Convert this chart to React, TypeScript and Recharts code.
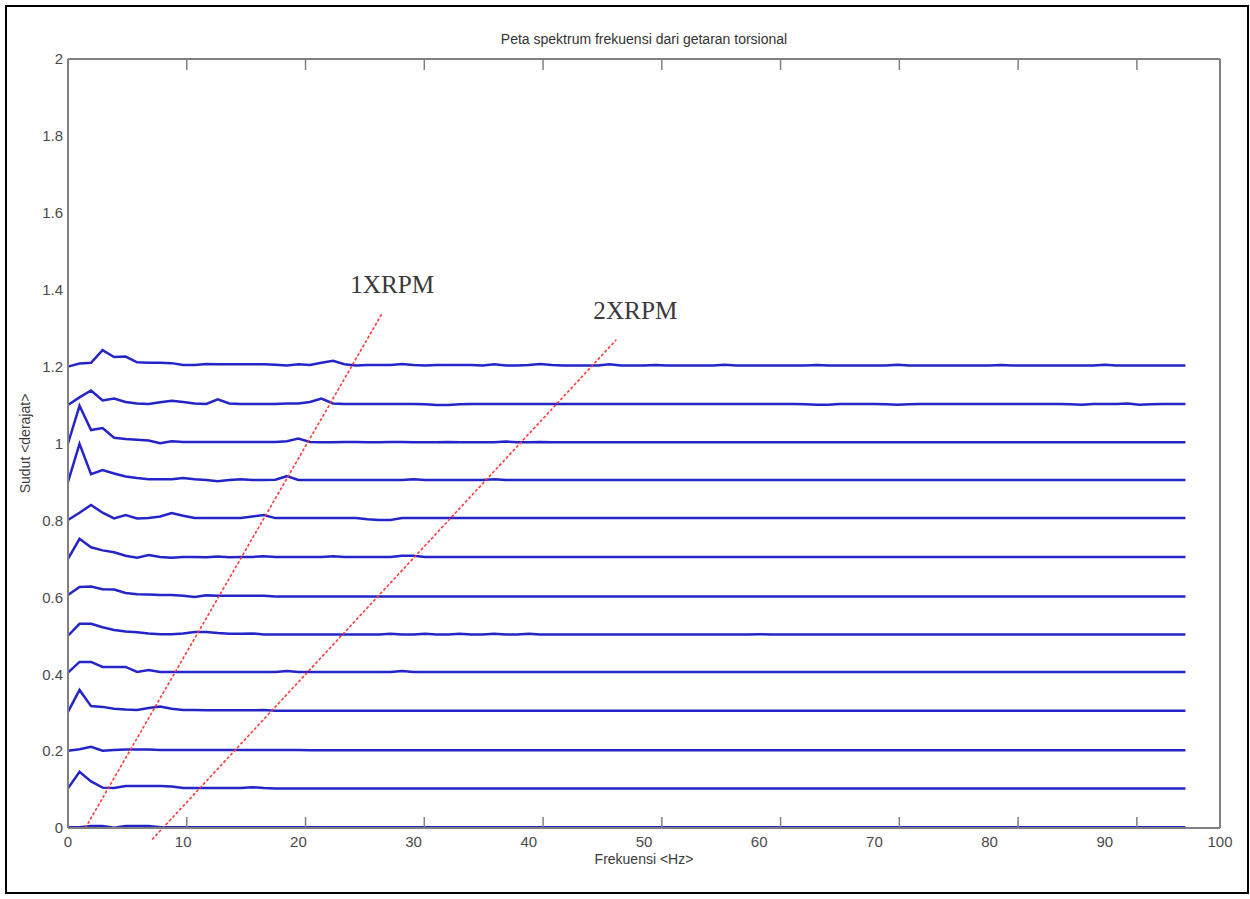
import React from "react";
import { LineChart, Line, XAxis, YAxis, ReferenceLine, ReferenceDot } from "recharts";

// frequency bins, Hz
const FREQ = [
  0, 1, 2, 3, 4, 5, 6, 7, 8, 9, 10, 11, 12, 13, 14, 15, 16, 17, 18, 19,
  20, 21, 22, 23, 24, 25, 26, 27, 28, 29, 30, 31, 32, 33, 34, 35, 36, 37, 38, 39,
  40, 41, 42, 43, 44, 45, 46, 47, 48, 49, 50, 51, 52, 53, 54, 55, 56, 57, 58, 59,
  60, 61, 62, 63, 64, 65, 66, 67, 68, 69, 70, 71, 72, 73, 74, 75, 76, 77, 78, 79,
  80, 81, 82, 83, 84, 85, 86, 87, 88, 89, 90, 91, 92, 93, 94, 95, 96, 97,
];

// spectrum amplitude of each run, in 0.001 deg
const RUN_00 = [
  2, 2, 5, 5, 1, 5, 5, 5, 2, 2, 2, 2, 2, 2, 2, 2, 2, 2, 2, 2,
  2, 2, 2, 2, 2, 2, 2, 2, 2, 2, 2, 2, 2, 2, 2, 2, 2, 2, 2, 2,
  2, 2, 2, 2, 2, 2, 2, 2, 2, 2, 2, 2, 2, 2, 2, 2, 2, 2, 2, 2,
  2, 2, 2, 2, 2, 2, 2, 2, 2, 2, 2, 2, 2, 2, 2, 2, 2, 2, 2, 2,
  2, 2, 2, 2, 2, 2, 2, 2, 2, 2, 2, 2, 2, 2, 2, 2, 2, 2,
];
const RUN_01 = [
  3, 46, 21, 5, 4, 9, 9, 9, 9, 8, 4, 4, 4, 4, 4, 4, 6, 4, 3, 3,
  3, 3, 3, 3, 3, 3, 3, 3, 3, 3, 3, 3, 3, 3, 3, 3, 3, 3, 3, 3,
  3, 3, 3, 3, 3, 3, 3, 3, 3, 3, 3, 3, 3, 3, 3, 3, 3, 3, 3, 3,
  3, 3, 3, 3, 3, 3, 3, 3, 3, 3, 3, 3, 3, 3, 3, 3, 3, 3, 3, 3,
  3, 3, 3, 3, 3, 3, 3, 3, 3, 3, 3, 3, 3, 3, 3, 3, 3, 3,
];
const RUN_02 = [
  1, 5, 11, 1, 3, 4, 4, 4, 3, 3, 3, 3, 3, 3, 3, 3, 3, 3, 3, 3,
  3, 2, 2, 2, 2, 2, 2, 2, 2, 2, 2, 2, 2, 2, 2, 2, 2, 2, 2, 2,
  2, 2, 2, 2, 2, 2, 2, 2, 2, 2, 2, 2, 2, 2, 2, 2, 2, 2, 2, 2,
  2, 2, 2, 2, 2, 2, 2, 2, 2, 2, 2, 2, 2, 2, 2, 2, 2, 2, 2, 2,
  2, 2, 2, 2, 2, 2, 2, 2, 2, 2, 2, 2, 2, 2, 2, 2, 2, 2,
];
const RUN_03 = [
  2, 59, 17, 15, 10, 8, 7, 12, 16, 10, 7, 7, 6, 6, 6, 6, 6, 7, 5, 5,
  5, 5, 5, 5, 5, 5, 5, 5, 5, 5, 5, 5, 5, 5, 5, 5, 5, 5, 5, 5,
  5, 5, 5, 5, 5, 5, 5, 5, 5, 5, 5, 5, 5, 5, 5, 5, 5, 5, 5, 5,
  5, 5, 5, 5, 5, 5, 5, 5, 5, 5, 5, 5, 5, 5, 5, 5, 5, 5, 5, 5,
  5, 5, 5, 5, 5, 5, 5, 5, 5, 5, 5, 5, 5, 5, 5, 5, 5, 5,
];
const RUN_04 = [
  4, 32, 32, 19, 19, 19, 6, 11, 6, 6, 6, 6, 6, 6, 6, 6, 6, 6, 6, 8,
  6, 6, 6, 6, 6, 6, 6, 6, 6, 8, 6, 6, 6, 6, 6, 6, 6, 6, 6, 6,
  6, 6, 6, 6, 6, 6, 6, 6, 6, 6, 6, 6, 6, 6, 6, 6, 6, 6, 6, 6,
  6, 6, 6, 6, 6, 6, 6, 6, 6, 6, 6, 6, 6, 6, 6, 6, 6, 6, 6, 6,
  6, 6, 6, 6, 6, 6, 6, 6, 6, 6, 6, 6, 6, 6, 6, 6, 6, 6,
];
const RUN_05 = [
  0, 31, 31, 22, 15, 11, 9, 6, 4, 4, 6, 10, 10, 7, 5, 5, 6, 3, 3, 3,
  3, 3, 3, 3, 3, 3, 3, 3, 5, 3, 3, 5, 3, 3, 5, 3, 3, 5, 3, 3,
  5, 3, 3, 3, 3, 3, 3, 3, 3, 3, 3, 3, 3, 3, 3, 3, 3, 3, 3, 3,
  4, 3, 3, 3, 3, 3, 3, 3, 3, 3, 3, 3, 3, 3, 3, 3, 3, 3, 3, 3,
  3, 3, 3, 3, 3, 3, 3, 3, 3, 3, 3, 3, 3, 3, 3, 3, 3, 3,
];
const RUN_06 = [
  6, 27, 28, 21, 20, 11, 8, 7, 6, 6, 4, 1, 5, 4, 4, 4, 4, 4, 2, 2,
  2, 2, 2, 2, 2, 2, 2, 2, 2, 2, 2, 2, 2, 2, 2, 2, 2, 2, 2, 2,
  2, 2, 2, 2, 2, 2, 2, 2, 2, 2, 2, 2, 2, 2, 2, 2, 2, 2, 2, 2,
  2, 2, 2, 2, 2, 2, 2, 2, 2, 2, 2, 2, 2, 2, 2, 2, 2, 2, 2, 2,
  2, 2, 2, 2, 2, 2, 2, 2, 2, 2, 2, 2, 2, 2, 2, 2, 2, 2,
];
const RUN_07 = [
  0, 52, 30, 22, 17, 8, 3, 10, 5, 3, 5, 5, 4, 6, 4, 5, 5, 7, 5, 5,
  5, 5, 5, 7, 5, 5, 5, 5, 5, 8, 8, 5, 5, 5, 5, 5, 5, 5, 5, 5,
  5, 5, 5, 5, 5, 5, 5, 5, 5, 5, 5, 5, 5, 5, 5, 5, 5, 5, 5, 5,
  5, 5, 5, 5, 5, 5, 5, 5, 5, 5, 5, 5, 5, 5, 5, 5, 5, 5, 5, 5,
  5, 5, 5, 5, 5, 5, 5, 5, 5, 5, 5, 5, 5, 5, 5, 5, 5, 5,
];
const RUN_08 = [
  1, 20, 40, 20, 5, 14, 5, 6, 10, 19, 12, 6, 6, 6, 6, 6, 10, 14, 6, 6,
  6, 6, 6, 6, 6, 6, 3, 1, 1, 6, 6, 6, 6, 6, 6, 6, 6, 6, 6, 6,
  6, 6, 6, 6, 6, 6, 6, 6, 6, 6, 6, 6, 6, 6, 6, 6, 6, 6, 6, 6,
  6, 6, 6, 6, 6, 6, 6, 6, 6, 6, 6, 6, 6, 6, 6, 6, 6, 6, 6, 6,
  6, 6, 6, 6, 6, 6, 6, 6, 6, 6, 6, 6, 6, 6, 6, 6, 6, 6,
];
const RUN_09 = [
  0, 99, 20, 31, 22, 14, 10, 7, 7, 7, 10, 7, 5, 2, 5, 7, 5, 5, 6, 15,
  5, 5, 5, 5, 5, 5, 5, 5, 5, 5, 7, 5, 5, 5, 5, 5, 5, 7, 5, 5,
  5, 5, 5, 5, 5, 5, 5, 5, 5, 5, 5, 5, 5, 5, 5, 5, 5, 5, 5, 5,
  5, 5, 5, 5, 5, 5, 5, 5, 5, 5, 5, 5, 5, 5, 5, 5, 5, 5, 5, 5,
  5, 5, 5, 5, 5, 5, 5, 5, 5, 5, 5, 5, 5, 5, 5, 5, 5, 5,
];
const RUN_10 = [
  0, 98, 35, 40, 15, 12, 10, 8, 1, 6, 4, 4, 4, 4, 4, 4, 4, 4, 4, 6,
  13, 4, 3, 3, 4, 4, 3, 3, 4, 4, 3, 3, 3, 4, 3, 3, 3, 3, 5, 3,
  3, 4, 3, 3, 3, 3, 3, 3, 3, 3, 3, 3, 3, 3, 3, 3, 3, 3, 3, 3,
  3, 3, 3, 3, 3, 3, 3, 3, 3, 3, 3, 3, 3, 3, 3, 3, 3, 3, 3, 3,
  3, 3, 3, 3, 3, 3, 3, 3, 3, 3, 3, 3, 3, 3, 3, 3, 3, 3,
];
const RUN_11 = [
  0, 20, 38, 12, 17, 8, 4, 3, 7, 11, 8, 4, 3, 15, 4, 3, 3, 3, 3, 4,
  4, 8, 17, 4, 3, 3, 3, 3, 3, 3, 3, 2, 0, 0, 2, 3, 3, 3, 3, 3,
  3, 3, 3, 3, 3, 3, 3, 3, 3, 3, 3, 3, 3, 3, 3, 3, 3, 3, 3, 3,
  3, 3, 3, 3, 2, 1, 1, 3, 3, 3, 3, 2, 1, 2, 3, 3, 3, 3, 3, 3,
  3, 3, 3, 3, 3, 3, 3, 2, 1, 3, 3, 3, 4, 1, 2, 3, 3, 3,
];
const RUN_12 = [
  0, 8, 10, 43, 25, 26, 11, 10, 10, 9, 4, 4, 7, 6, 6, 6, 6, 6, 5, 3,
  6, 4, 10, 15, 6, 3, 4, 4, 4, 7, 4, 3, 4, 4, 4, 4, 3, 6, 3, 3,
  4, 7, 4, 3, 3, 3, 3, 6, 3, 3, 3, 4, 3, 3, 3, 3, 3, 5, 3, 3,
  3, 3, 3, 3, 3, 4, 3, 3, 3, 3, 3, 3, 5, 3, 3, 3, 3, 3, 3, 3,
  3, 4, 3, 3, 3, 3, 3, 3, 3, 3, 5, 3, 3, 3, 3, 3, 3, 3,
];

const RUNS = [RUN_00, RUN_01, RUN_02, RUN_03, RUN_04, RUN_05, RUN_06, RUN_07, RUN_08, RUN_09, RUN_10, RUN_11, RUN_12];
// waterfall offset of each run, deg
const RUN_OFFSET = [0, 0.1, 0.2, 0.3, 0.4, 0.5, 0.6, 0.7, 0.8, 0.9, 1.0, 1.1, 1.2];

const X_TICKS = [0, 10, 20, 30, 40, 50, 60, 70, 80, 90, 100];
const Y_TICKS = [0, 0.2, 0.4, 0.6, 0.8, 1, 1.2, 1.4, 1.6, 1.8, 2];

// order lines (Hz, deg)
const RPM_1X = [{ x: 1.5, y: 0 }, { x: 27.3, y: 1.34 }];
const RPM_2X = [{ x: 7.3, y: -0.03 }, { x: 47.6, y: 1.27 }];
const RPM_LABELS = [
  { text: "1XRPM", x: 24.5, y: 1.392 },
  { text: "2XRPM", x: 45.6, y: 1.323 },
];

const rows = FREQ.map((f, i) => {
  const r: Record<string, number> = { f };
  RUNS.forEach((run, k) => {
    r["s" + k] = +(RUN_OFFSET[k] + run[i] / 1000).toFixed(4);
  });
  return r;
});

const BLUE = "#2424c8";
const AXIS = "#808080";
const SANS = "Liberation Sans, Arial, sans-serif";
const tickFont = { fontSize: 15, fontFamily: SANS, fill: "#4a4a4a" };
const innerTick = { stroke: AXIS, strokeWidth: 1.5 };
const noLabel = () => <g />;

export default function App() {
  return (
    <div style={{ position: "absolute", left: 0, top: 0, width: 1250, height: 899, background: "#fff" }}>
      <div
        style={{
          position: "absolute",
          left: 5,
          top: 5,
          width: 1244,
          height: 889,
          border: "2px solid #000",
          boxSizing: "border-box",
        }}
      />
      <div
        style={{
          position: "absolute",
          left: 68,
          top: 31,
          width: 1152,
          textAlign: "center",
          fontFamily: SANS,
          fontSize: 14,
          color: "#333",
          lineHeight: "16px",
        }}
      >
        Peta spektrum frekuensi dari getaran torsional
      </div>
      <LineChart width={1250} height={899} data={rows} margin={{ top: 59, right: 30, bottom: 31, left: 8 }}>
        {/* labelled axes */}
        <XAxis
          dataKey="f"
          type="number"
          domain={[0, 100]}
          ticks={X_TICKS}
          interval={0}
          height={40}
          tickLine={false}
          tickSize={0}
          tickMargin={8}
          tick={tickFont}
          axisLine={{ stroke: AXIS, strokeWidth: 2 }}
          label={{ value: "Frekuensi <Hz>", position: "insideBottom", offset: 4, style: { ...tickFont, fontSize: 14, fill: "#3a3a3a" } }}
        />
        <YAxis
          type="number"
          domain={[0, 2]}
          ticks={Y_TICKS}
          interval={0}
          width={60}
          tickLine={false}
          tickSize={0}
          tickMargin={5}
          tick={tickFont}
          axisLine={{ stroke: AXIS, strokeWidth: 2 }}
          label={{
            content: (p: any) => {
              const vb = p.viewBox || {};
              const cx = vb.x + 18;
              const cy = vb.y + vb.height / 2;
              return (
                <text
                  x={cx}
                  y={cy}
                  transform={`rotate(-90 ${cx} ${cy})`}
                  textAnchor="middle"
                  dominantBaseline="middle"
                  style={{ ...tickFont, fontSize: 14, fill: "#3a3a3a" }}
                >
                  Sudut &lt;derajat&gt;
                </text>
              );
            },
          }}
        />
        {/* inward ticks on all four sides of the box */}
        <XAxis
          xAxisId="bt"
          orientation="bottom"
          mirror
          type="number"
          domain={[0, 100]}
          ticks={X_TICKS}
          interval={0}
          height={20}
          tickSize={11}
          tick={noLabel}
          tickLine={innerTick}
          axisLine={false}
        />
        <XAxis
          xAxisId="top"
          orientation="top"
          mirror
          type="number"
          domain={[0, 100]}
          ticks={X_TICKS}
          interval={0}
          height={20}
          tickSize={11}
          tick={noLabel}
          tickLine={innerTick}
          axisLine={{ stroke: AXIS, strokeWidth: 2 }}
        />
        <YAxis
          yAxisId="lt"
          orientation="left"
          mirror
          type="number"
          domain={[0, 2]}
          ticks={Y_TICKS}
          interval={0}
          width={20}
          tickSize={11}
          tick={noLabel}
          tickLine={innerTick}
          axisLine={false}
        />
        <YAxis
          yAxisId="right"
          orientation="right"
          mirror
          type="number"
          domain={[0, 2]}
          ticks={Y_TICKS}
          interval={0}
          width={20}
          tickSize={11}
          tick={noLabel}
          tickLine={innerTick}
          axisLine={{ stroke: AXIS, strokeWidth: 2 }}
        />
        {RUNS.map((_, k) => (
          <Line
            key={k}
            dataKey={"s" + k}
            type="linear"
            stroke={BLUE}
            strokeWidth={2.5}
            dot={false}
            activeDot={false}
            isAnimationActive={false}
          />
        ))}
        <ReferenceLine segment={RPM_1X} stroke="#ff3a3a" strokeWidth={1.6} strokeDasharray="3 2" ifOverflow="visible" />
        <ReferenceLine segment={RPM_2X} stroke="#ff3a3a" strokeWidth={1.6} strokeDasharray="3 2" ifOverflow="visible" />
        {RPM_LABELS.map((l) => (
          <ReferenceDot
            key={l.text}
            x={l.x}
            y={l.y}
            r={0}
            ifOverflow="visible"
            shape={(p: any) => (
              <text
                x={p.cx}
                y={p.cy}
                fontFamily="Liberation Serif, Times New Roman, serif"
                fontSize={26}
                fill="#3a3a3a"
                textLength={84}
                lengthAdjust="spacingAndGlyphs"
              >
                {l.text}
              </text>
            )}
          />
        ))}
      </LineChart>
    </div>
  );
}
